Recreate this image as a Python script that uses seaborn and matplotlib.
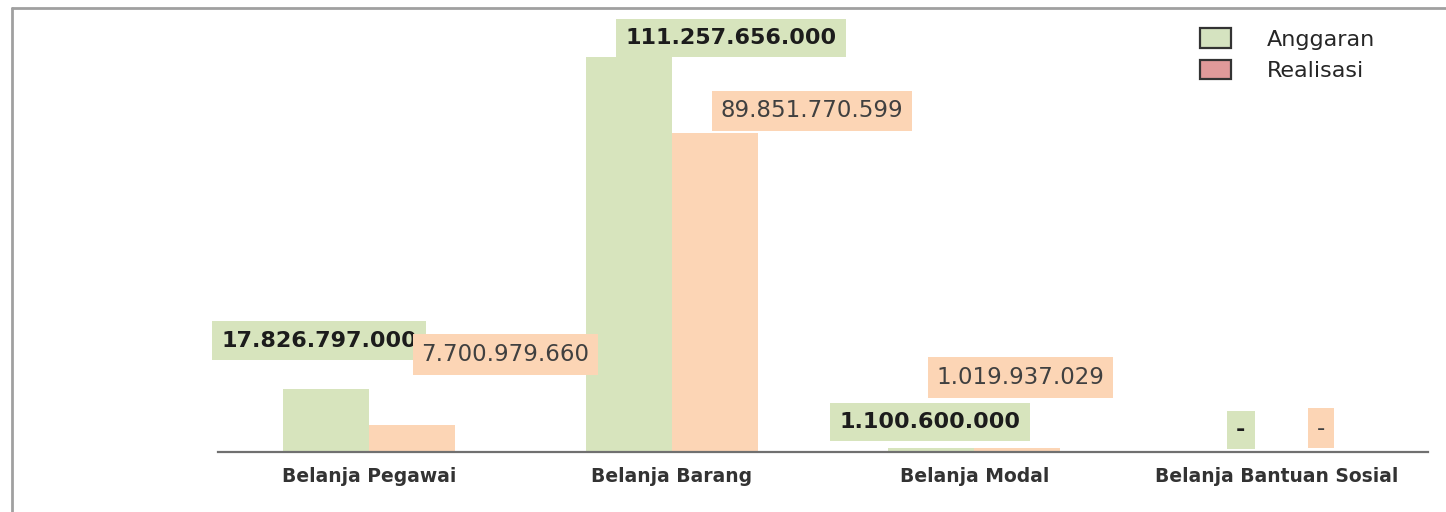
import matplotlib
matplotlib.use("Agg")
import matplotlib.pyplot as plt
import matplotlib.patches as mpatches
import pandas as pd
import seaborn as sns

# Anggaran vs Realisasi per jenis belanja

kategori = ["Belanja Pegawai", "Belanja Barang", "Belanja Modal", "Belanja Bantuan Sosial"]
anggaran = [17826797000, 111257656000, 1100600000, 0]
realisasi = [7700979660, 89851770599, 1019937029, 0]
label_anggaran = ["17.826.797.000", "111.257.656.000", "1.100.600.000", "-"]
label_realisasi = ["7.700.979.660", "89.851.770.599", "1.019.937.029", "-"]

df = pd.DataFrame({
    "Kategori": kategori * 2,
    "Nilai": anggaran + realisasi,
    "Seri": ["Anggaran"] * 4 + ["Realisasi"] * 4,
})

warna_bar = {"Anggaran": "#d7e4bd", "Realisasi": "#fcd5b5"}
warna_legend = {"Anggaran": "#d5e3c0", "Realisasi": "#e09a9a"}

# label offsets from bar top, in pixels (dx, dy)
off_anggaran = [(-7, 48), (102, 19), (-1, 26), (7, 22)]
off_realisasi = [(93, 70), (97, 22), (3, 71), (1, 24)]

sns.set_theme(style="white")
plt.rcParams["font.family"] = ["DejaVu Sans"]

fig = plt.figure(figsize=(14.46, 5.12), dpi=100)
ax = fig.add_axes([218 / 1446, 1 - 452 / 512, (1428 - 218) / 1446, (452 - 20) / 512])

sns.barplot(data=df, x="Kategori", y="Nilai", hue="Seri", palette=warna_bar,
            width=0.57, ax=ax, legend=False, saturation=1, edgecolor="none")

ax.set_ylim(0, max(anggaran) * 432 / 395)
ax.set_xlim(-0.5, 3.5)
ax.set_xlabel("")
ax.set_ylabel("")
ax.set_yticks([])
for s in ["top", "left", "right"]:
    ax.spines[s].set_visible(False)
ax.spines["bottom"].set_color("#707070")
ax.spines["bottom"].set_linewidth(1.6)
ax.set_xticks(range(4))
ax.set_xticklabels(kategori, fontsize=13.5, fontweight="bold", color="#333333")
ax.tick_params(axis="x", length=0, pad=11)
ax.set_xticks([-0.5, 0.5, 1.5, 2.5, 3.5], minor=True)
ax.tick_params(axis="x", which="minor", length=4, color="#707070", width=1.2, direction="out")

px = 0.72  # points per pixel at 100 dpi
bars = ax.patches
n = len(kategori)
for i in range(n):
    for bar, lbl, off, seri, bold in [
        (bars[i], label_anggaran[i], off_anggaran[i], "Anggaran", True),
        (bars[n + i], label_realisasi[i], off_realisasi[i], "Realisasi", False),
    ]:
        cx = bar.get_x() + bar.get_width() / 2
        top = bar.get_height()
        ax.annotate(lbl, xy=(cx, top), xytext=(off[0] * px, off[1] * px),
                    textcoords="offset points", ha="center", va="center",
                    fontsize=16 if bold else 16.5,
                    fontweight="bold" if bold else "normal",
                    color="#1c1c1c" if bold else "#404040",
                    bbox=dict(boxstyle="square,pad=0.38" if not bold else "square,pad=0.42",
                              fc=warna_bar[seri], ec="none"),
                    annotation_clip=False, zorder=5)

handles = [mpatches.Patch(facecolor=warna_legend[k], edgecolor="#333333", linewidth=1.6, label=k)
           for k in ["Anggaran", "Realisasi"]]
fig.legend(handles=handles, loc="upper left", bbox_to_anchor=(1200 / 1446, 1 - 28 / 512),
           frameon=False, fontsize=16, handlelength=1.4, handleheight=1.0,
           handletextpad=1.6, labelspacing=0.45, borderpad=0, borderaxespad=0)

# frame around the picture
fig.add_artist(plt.Line2D([12 / 1446, 12 / 1446], [0, 1 - 8 / 512], color="#a0a0a0", lw=2,
                          transform=fig.transFigure))
fig.add_artist(plt.Line2D([12 / 1446, 1], [1 - 8 / 512, 1 - 8 / 512], color="#a0a0a0", lw=2,
                          transform=fig.transFigure))

fig.savefig("out.png", dpi=100, facecolor="white")
